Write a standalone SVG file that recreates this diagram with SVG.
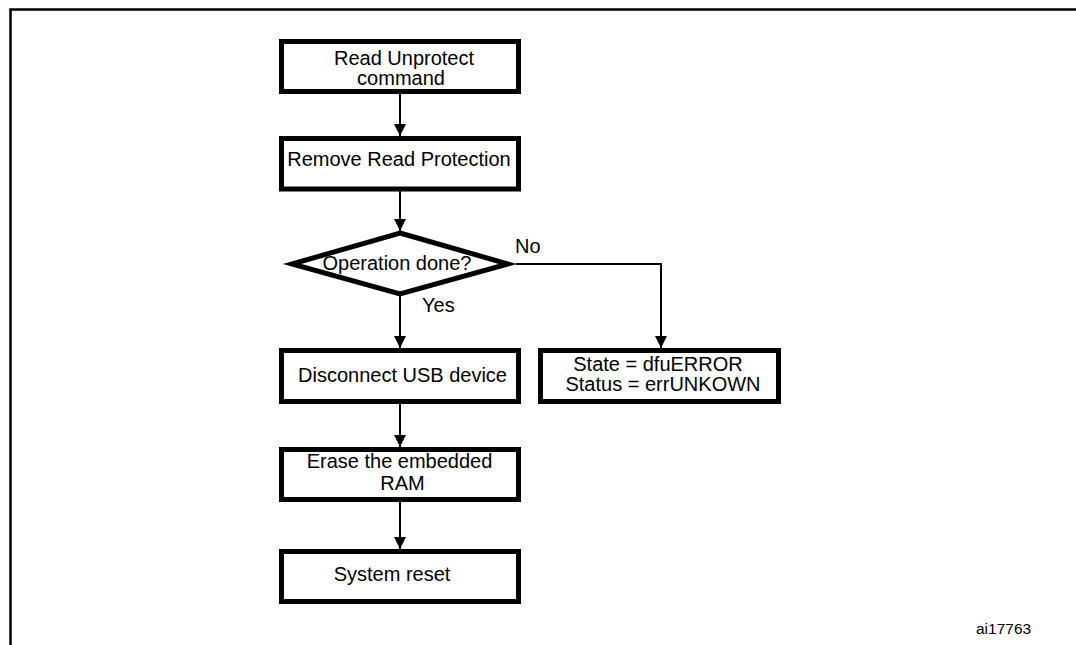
<svg xmlns="http://www.w3.org/2000/svg" width="1076" height="645" viewBox="0 0 1076 645">
  <style>
    .box { fill: #ffffff; stroke: #000000; stroke-width: 5; }
    .conn { fill: none; stroke: #000000; stroke-width: 2; }
    .frame { fill: none; stroke: #000000; stroke-width: 2.5; }
    text { font-family: "Liberation Sans", Arial, sans-serif; font-size: 20px; fill: #000000; }
    .mid { text-anchor: middle; }
    .ref { font-size: 15.5px; }
  </style>
  <defs>
    <marker id="arrow" viewBox="0 0 12 12" refX="12" refY="6" markerWidth="12" markerHeight="12" markerUnits="userSpaceOnUse" orient="auto">
      <path d="M0,0 L12,6 L0,12 Z" fill="#000000"/>
    </marker>
  </defs>
  <rect width="1076" height="645" fill="#ffffff"/>

  <g id="frame">
    <polyline class="frame" points="10.5,645 10.5,9.5 1076,9.5"/>
  </g>

  <g id="connectors">
    <line class="conn" x1="400" y1="94" x2="400" y2="136" marker-end="url(#arrow)"/>
    <line class="conn" x1="400" y1="191" x2="400" y2="231" marker-end="url(#arrow)"/>
    <line class="conn" x1="400" y1="295" x2="400" y2="348" marker-end="url(#arrow)"/>
    <polyline class="conn" points="516,264 661,264 661,348" marker-end="url(#arrow)"/>
    <line class="conn" x1="400" y1="403" x2="400" y2="447" marker-end="url(#arrow)"/>
    <line class="conn" x1="400" y1="502" x2="400" y2="549" marker-end="url(#arrow)"/>
    <text x="515" y="253">No</text>
    <text x="422" y="312">Yes</text>
  </g>

  <g id="node-read-unprotect">
    <rect class="box" x="281.5" y="41.5" width="237" height="50"/>
    <text class="mid" x="404" y="65">Read Unprotect</text>
    <text class="mid" x="401" y="85">command</text>
  </g>

  <g id="node-remove-protection">
    <rect class="box" x="281.5" y="138.5" width="237" height="50.5"/>
    <text class="mid" x="399" y="166">Remove Read Protection</text>
  </g>

  <g id="node-operation-done">
    <polygon class="box" points="400,233 508,264 400,294 292,264"/>
    <text class="mid" x="397" y="270">Operation done?</text>
  </g>

  <g id="node-disconnect">
    <rect class="box" x="281.5" y="350.5" width="237" height="51"/>
    <text class="mid" x="402.5" y="382">Disconnect USB device</text>
  </g>

  <g id="node-error">
    <rect class="box" x="540.5" y="350.5" width="238" height="51"/>
    <text class="mid" x="658" y="371">State = dfuERROR</text>
    <text class="mid" x="663" y="391">Status = errUNKOWN</text>
  </g>

  <g id="node-erase-ram">
    <rect class="box" x="281.5" y="449.5" width="237" height="50"/>
    <text class="mid" x="399.5" y="468">Erase the embedded</text>
    <text class="mid" x="402.5" y="490">RAM</text>
  </g>

  <g id="node-system-reset">
    <rect class="box" x="281.5" y="551.5" width="237" height="50"/>
    <text class="mid" x="392" y="581">System reset</text>
  </g>

  <g id="figure-ref">
    <text class="ref" x="976" y="634">ai17763</text>
  </g>
</svg>
